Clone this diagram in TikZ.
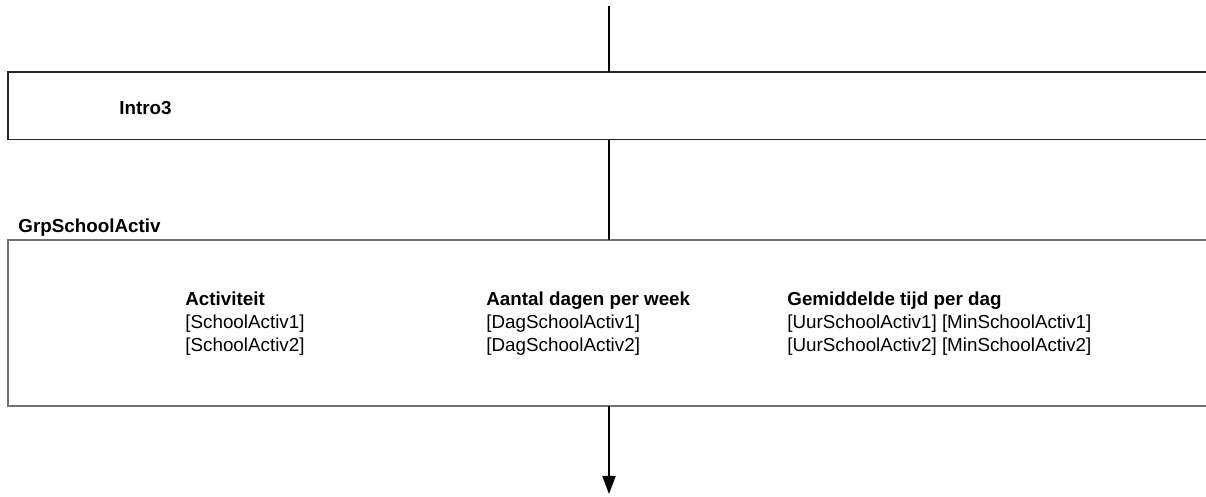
\documentclass[tikz,border=0pt]{standalone}
\usepackage{fontspec}
\setmainfont{Liberation Sans}
\usetikzlibrary{arrows.meta,positioning}

\begin{document}
\begin{tikzpicture}[
            x=0.5pt, y=-0.5pt,
            font=\fontsize{9.4}{11.75}\selectfont,
            frame/.style={minimum width=599pt, minimum height=33.5pt, inner sep=0pt},
            groupframe/.style={minimum width=599pt, minimum height=82.5pt, inner sep=0pt},
            edge/.style={draw=black!85, line width=0.7pt},
            grpedge/.style={draw=black!55, line width=0.9pt},
            label/.style={anchor=base west, inner sep=0pt, align=left},
            flow/.style={line width=0.8pt},
            arrow/.style={-{Triangle[length=9pt, width=6.6pt]}, line width=0.8pt}
        ]
        \useasboundingbox (0,0) rectangle (1206,497);

        % question block
        \node[frame, anchor=north west] (intro) at (8,72) {};
        \node[label, font=\fontsize{9.4}{11.75}\selectfont\bfseries] (introname) at (119,115) {Intro3};
        \draw[edge] (intro.north east) -- (intro.north west) -- (intro.south west) -- (intro.south east);

        % group block
        \node[groupframe, anchor=north west] (grp) at (8,240) {};
        \node[label, font=\fontsize{9.4}{11.75}\selectfont\bfseries] (grpname) at (18,232.5) {GrpSchoolActiv};
        \draw[grpedge] (grp.north east) -- (grp.north west) -- (grp.south west) -- (grp.south east);

        % columns (base = last line)
        \node[label] (colact) at (185,352) {\textbf{Activiteit}\\{}[SchoolActiv1]\\{}[SchoolActiv2]};
        \node[label] (coldag) at (486,352) {\textbf{Aantal dagen per week}\\{}[DagSchoolActiv1]\\{}[DagSchoolActiv2]};
        \node[label] (coltijd) at (787,352) {\textbf{Gemiddelde tijd per dag}\\{}[UurSchoolActiv1] [MinSchoolActiv1]\\{}[UurSchoolActiv2] [MinSchoolActiv2]};

        % flow
        \coordinate (start) at (609,6);
        \coordinate (end) at (609,494);
        \draw[flow] (start) -- (intro.north -| start);
        \draw[flow] (intro.south -| start) -- (grp.north -| start);
        \draw[arrow] (grp.south -| start) -- (end);

    \end{tikzpicture}
\end{document}
